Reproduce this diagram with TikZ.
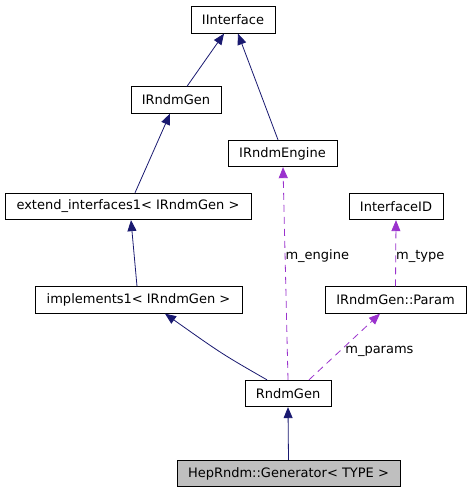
\documentclass[tikz,border=0pt]{standalone}
\usepackage{fontspec}
\setmainfont{DejaVu Sans}
\usetikzlibrary{arrows.meta}
\definecolor{edgeblue}{HTML}{191970}
\definecolor{edgepurple}{HTML}{9A32CD}
\definecolor{nodegray}{HTML}{BFBFBF}
\begin{document}
\begin{tikzpicture}[x=1pt,y=-1pt,
  cls/.style={draw=black,line width=0.8pt,fill=white,inner sep=0pt,minimum height=26.5pt,font=\fontsize{13}{15}\selectfont},
  inh/.style={draw=edgeblue,line width=0.8pt,-{Triangle[length=11pt,width=9pt]}},
  use/.style={draw=edgepurple,line width=0.8pt,dash pattern=on 7pt off 5pt,-{Triangle[length=11pt,width=9pt]}},
  lbl/.style={anchor=west,inner sep=0pt,font=\fontsize{13}{15}\selectfont}]
\useasboundingbox (0,0) rectangle (472,493);
\node[cls,minimum width=84pt] (iint) at (233,20) {IInterface};
\node[cls,minimum width=90pt] (irg) at (176,100) {IRndmGen};
\node[cls,minimum width=109pt] (ire) at (282.5,153.5) {IRndmEngine};
\node[cls,minimum width=246pt] (ext) at (128,206.5) {extend\_interfaces1< IRndmGen >};
\node[cls,minimum width=94pt] (iid) at (396,206.5) {InterfaceID};
\node[cls,minimum width=207pt] (impl) at (138.5,300) {implements1< IRndmGen >};
\node[cls,minimum width=141pt] (par) at (395.5,300) {IRndmGen::Param};
\node[cls,minimum width=86pt] (rg) at (288,393.5) {RndmGen};
\node[cls,minimum width=223pt,fill=nodegray] (gen) at (288.5,473.5) {HepRndm::Generator< TYPE >};

\draw[inh] ([xshift=11pt]irg.north) -- ([xshift=-9pt]iint.south);
\draw[inh] ([xshift=-4.5pt]ire.north) -- ([xshift=5pt]iint.south);
\draw[inh] ([xshift=7pt]ext.north) -- ([xshift=-6pt]irg.south);
\draw[inh] ([xshift=-1.5pt]impl.north) -- ([xshift=3pt]ext.south);
\draw[inh] ([xshift=-21pt]rg.north) .. controls (222,354) .. ([xshift=26.5pt]impl.south);
\draw[inh] (gen.north) -- (rg.south);
\draw[use] (rg.north) -- ([xshift=0.5pt]ire.south) node[lbl,pos=0.58] {m\_engine};
\draw[use] ([xshift=21pt]rg.north) -- ([xshift=-15.5pt]par.south) node[lbl,pos=0.45,yshift=-1pt,xshift=4pt] {m\_params};
\draw[use] (par.north) -- (iid.south) node[lbl,pos=0.45] {m\_type};
\end{tikzpicture}
\end{document}
